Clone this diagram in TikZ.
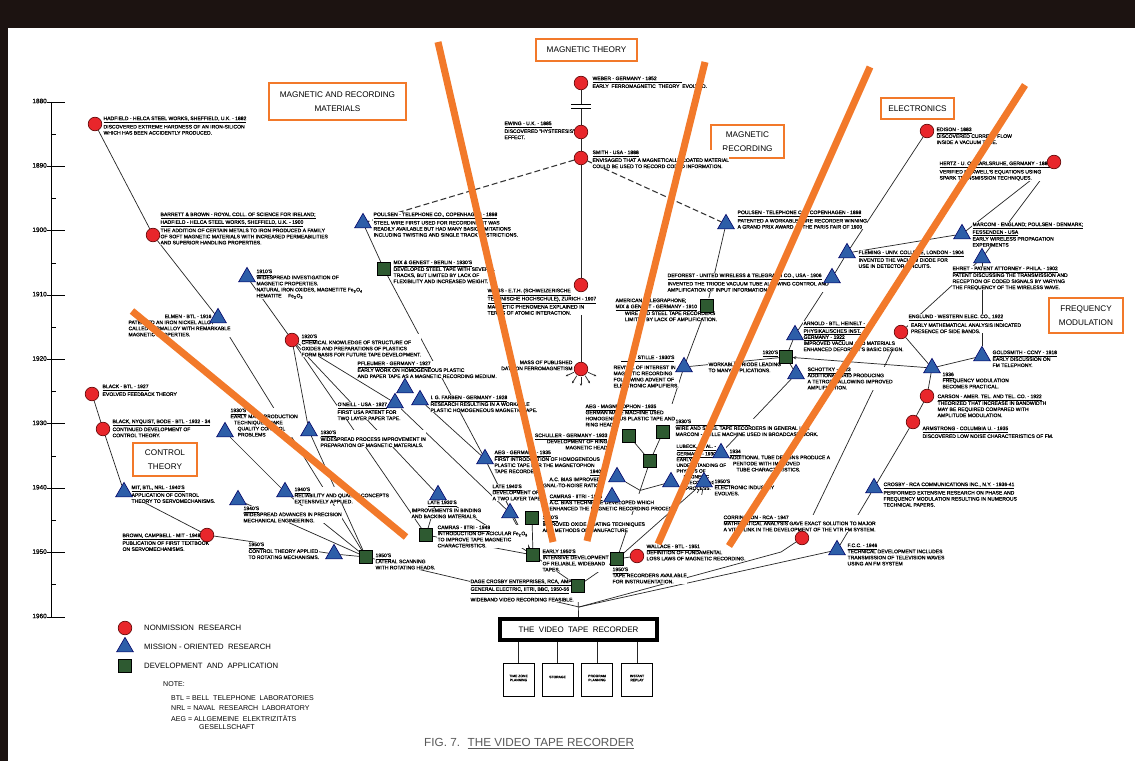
\documentclass[tikz,border=0pt]{standalone}
\usepackage{fontspec}
\setmainfont{Liberation Sans}
\newfontfamily\lett[FakeBold=0.7]{Liberation Sans}
\usetikzlibrary{shapes.geometric,calc,arrows.meta}
\definecolor{nmred}{HTML}{E8262B}
\definecolor{moblue}{HTML}{2D5EA8}
\definecolor{dagreen}{HTML}{2E5A31}
\definecolor{orng}{HTML}{F2792A}
\definecolor{framec}{HTML}{1C1311}
\pgfdeclarelayer{back}\pgfdeclarelayer{bg}\pgfdeclarelayer{fg}
\pgfsetlayers{back,bg,main,fg}
\newcommand{\sm}{\lett\fontsize{4.3}{5.2}\selectfont}
\newcommand{\utl}[1]{\underline{#1}}
\begin{document}
\begin{tikzpicture}[x=0.03cm,y=-0.03cm,
  nm/.style={circle,fill=nmred,draw=black!65!red,line width=0.5pt,minimum size=0.41cm,inner sep=0},
  mo/.style={regular polygon,regular polygon sides=3,fill=moblue,draw=black!60!blue,line width=0.5pt,minimum size=0.58cm,inner sep=0},
  da/.style={rectangle,fill=dagreen,draw=black,line width=0.5pt,minimum size=0.38cm,inner sep=0},
  txt/.style={anchor=north west,inner sep=0.3pt,align=left,font=\sm,fill=white},
  txtr/.style={txt,anchor=north east,align=right},
  conn/.style={line width=0.6pt,draw=black!85},
  dashconn/.style={line width=0.9pt,draw=black!80,dash pattern=on 5pt off 2.6pt},
  catbox/.style={draw=orng,line width=2.4pt,fill=white},
  catlbl/.style={font=\fontsize{7}{10}\selectfont,align=center,inner sep=0},
  orangeline/.style={draw=orng,line width=6pt},
  smallbox/.style={draw=black,line width=0.8pt,fill=white,minimum width=0.93cm,minimum height=0.99cm,inner sep=0},
  sblbl/.style={font=\lett\fontsize{2.9}{3.5}\selectfont,align=center,inner sep=0},
  yearlbl/.style={font=\lett\fontsize{5.5}{6}\selectfont,anchor=east,inner sep=0},
  legtxt/.style={font=\fontsize{6.6}{8}\selectfont,anchor=west,inner sep=0},
  notetxt/.style={font=\fontsize{6}{7}\selectfont,anchor=west,inner sep=0}
]
\useasboundingbox (0,0) rectangle (1135,761);
\begin{pgfonlayer}{back}
\fill[framec] (0,0) rectangle (1135,761);
\fill[white] (8,28) rectangle (1135,761);
\end{pgfonlayer}

% ---------------- time axis ----------------
\draw[line width=0.8pt] (51,102) -- (51,617);
\foreach \i/\yr in {0/1880,1/1890,2/1900,3/1910,4/1920,5/1930,6/1940,7/1950,8/1960}{
  \draw[line width=0.8pt] (47,{102+64.375*\i}) -- (65,{102+64.375*\i});
  \node[yearlbl] (yr\yr) at (47,{101+64.375*\i}) {\yr};
}
\foreach \i in {0,...,7}{
  \draw[line width=0.6pt] (51,{134.2+64.375*\i}) -- (56,{134.2+64.375*\i});
}

% ---------------- category boxes ----------------
\draw[catbox] (269,83) rectangle (406,120);
\node[catlbl] (k_mat) at (337.5,101.5) {MAGNETIC AND RECORDING\\[2pt]MATERIALS};
\draw[catbox] (536,39) rectangle (637,61);
\node[catlbl] (k_theory) at (586.5,50) {MAGNETIC THEORY};
\draw[catbox] (711,125) rectangle (784,158);
\node[catlbl] (k_rec) at (747.5,141.5) {MAGNETIC\\[2pt]RECORDING};
\draw[catbox] (881,98) rectangle (954,119);
\node[catlbl] (k_elec) at (917.5,108.5) {ELECTRONICS};
\draw[catbox] (1049,298) rectangle (1123,333);
\node[catlbl] (k_fm) at (1086,315.5) {FREQUENCY\\[2pt]MODULATION};
\draw[catbox] (133,443) rectangle (197,476);
\node[catlbl] (k_ctl) at (165,459.5) {CONTROL\\[2pt]THEORY};

% ---------------- texts ----------------
\node[txt] (x_hadfield) at (103,116) {\utl{HADFIELD - HELCA STEEL WORKS, SHEFFIELD, U.K. - 1882}\\[0.6pt]DISCOVERED EXTREME HARDNESS OF AN IRON-SILICON\\WHICH HAS BEEN ACCIDENTLY PRODUCED.};
\node[txt] (x_barrett) at (160,212) {\utl{BARRETT \& BROWN - ROYAL COLL. OF SCIENCE FOR IRELAND;}\\\utl{HADFIELD - HELCA STEEL WORKS, SHEFFIELD, U.K. - 1900}\\[0.6pt]THE ADDITION OF CERTAIN METALS TO IRON PRODUCED A FAMILY\\OF SOFT MAGNETIC MATERIALS WITH INCREASED PERMEABILITIES\\AND SUPERIOR HANDLING PROPERTIES.};
\node[txt] (x_1910) at (256,269) {\utl{1910'S}\\WIDESPREAD INVESTIGATION OF\\MAGNETIC PROPERTIES.\\NATURAL IRON OXIDES, MAGNETITE Fe\textsubscript{3}O\textsubscript{4}\\HEMATITE \quad Fe\textsubscript{2}O\textsubscript{3}};
\node[txtr] (x_elmen) at (212,314) {\utl{ELMEN - BTL - 1916}};
\node[txt] (x_elmenb) at (128,320) {PATENTED AN IRON NICKEL ALLOY\\CALLED PERMALLOY WITH REMARKABLE\\MAGNETIC PROPERTIES.};
\node[txt] (x_1920) at (301,334) {\utl{1920'S}\\CHEMICAL KNOWLEDGE OF STRUCTURE OF\\OXIDES AND PREPARATIONS OF PLASTICS\\FORM BASIS FOR FUTURE TAPE DEVELOPMENT.};
\node[txt] (x_pfleumer) at (357,361) {\utl{PFLEUMER - GERMANY - 1927}\\[0.6pt]EARLY WORK ON HOMOGENEOUS PLASTIC\\AND PAPER TAPE AS A MAGNETIC RECORDING MEDIUM.};
\node[txt] (x_oneill) at (337,402) {\utl{O'NEILL - USA - 1927}\\[1.5pt]FIRST USA PATENT FOR\\TWO LAYER PAPER TAPE.};
\node[txt] (x_farben) at (430,395) {\utl{I. G. FARBEN - GERMANY - 1928}\\[0.6pt]RESEARCH RESULTING IN A WORKABLE\\PLASTIC HOMOGENEOUS MAGNETIC TAPE.};
\node[txt] (x_1930) at (320,430) {\utl{1930'S}\\[0.6pt]WIDESPREAD PROCESS IMPROVEMENT IN\\PREPARATION OF MAGNETIC MATERIALS.};
\node[txt] (x_aeg) at (494,450) {\utl{AEG - GERMANY - 1935}\\[0.6pt]FIRST INTRODUCTION OF HOMOGENEOUS\\PLASTIC TAPE FOR THE MAGNETOPHON\\TAPE RECORDER.};
\node[txt] (x_late30) at (427,500) {\utl{LATE 1930'S}};
\node[txt] (x_late30b) at (411,508) {IMPROVEMENTS IN BINDING\\AND BACKING MATERIALS.};
\node[txt] (x_late40) at (492,484) {\utl{LATE 1940'S}\\DEVELOPMENT OF\\A TWO LAYER TAPE.};
\node[txt] (x_oxide) at (542,515) {\utl{1950'S}\\[0.6pt]IMPROVED OXIDE COATING TECHNIQUES\\AND METHODS OF MANUFACTURE};
\node[txt] (x_camras49) at (437,525) {\utl{CAMRAS - IITRI - 1949}\\INTRODUCTION OF ACICULAR Fe\textsubscript{2}O\textsubscript{3}\\TO IMPROVE TAPE MAGNETIC\\CHARACTERISTICS.};
\node[txt] (x_early50) at (542,549) {\utl{EARLY 1950'S}\\INTENSIVE DEVELOPMENT\\OF RELIABLE, WIDEBAND\\TAPES.};
\node[txt] (x_final) at (470,579) {\utl{DAGE CROSBY ENTERPRISES, RCA, AMPEX,}\\\utl{GENERAL ELECTRIC, IITRI, BBC, 1950-56}\\[2.5pt]WIDEBAND VIDEO RECORDING FEASIBLE.};
\node[txt] (x_right50) at (612,567) {\utl{1950'S}\\TAPE RECORDERS AVAILABLE\\FOR INSTRUMENTATION.};
\node[txt] (x_wallace) at (646,544) {\utl{WALLACE - BTL - 1951}\\DEFINITION OF FUNDAMENTAL\\LOSS LAWS OF MAGNETIC RECORDING.};

\node[txt] (x_weber) at (592,76) {\utl{WEBER - GERMANY - 1852\hspace{22pt}}\\[1.5pt]EARLY \ FERROMAGNETIC \ THEORY \ EVOLVED.};
\node[txt] (x_ewing) at (504,121) {\utl{EWING - U.K. - 1885}\\[1.5pt]DISCOVERED "HYSTERESIS"\\EFFECT.};
\node[txt] (x_smith) at (592,150) {\utl{SMITH - USA - 1888}\\[1.5pt]ENVISAGED THAT A MAGNETICALLY COATED MATERIAL\\COULD BE USED TO RECORD CODED INFORMATION.};
\node[txt] (x_weiss) at (487,288) {\utl{WEISS - E.T.H. (SCHWEIZERISCHE}\\\utl{TECHNISCHE HOCHSCHULE), ZURICH - 1907}\\MAGNETIC PHENOMENA EXPLAINED IN\\TERMS OF ATOMIC INTERACTION.};
\node[txtr] (x_mass) at (573,360) {MASS OF PUBLISHED\\DATA ON FERROMAGNETISM};

\node[txt] (x_poulsen98) at (373,212) {\utl{POULSEN - TELEPHONE CO., COPENHAGEN - 1898}\\[0.6pt]STEEL WIRE FIRST USED FOR RECORDING, IT WAS\\READILY AVAILABLE BUT HAD MANY BASIC LIMITATIONS\\INCLUDING TWISTING AND SINGLE TRACK RESTRICTIONS.};
\node[txt] (x_mix) at (393,260) {\utl{MIX \& GENEST - BERLIN - 1930'S}\\[0.6pt]DEVELOPED STEEL TAPE WITH SEVERAL\\TRACKS, BUT LIMITED BY LACK OF\\FLEXIBILITY AND INCREASED WEIGHT.};
\node[txt] (x_poulsen99) at (737,210) {\utl{POULSEN - TELEPHONE CO., COPENHAGEN - 1898}\\[0.6pt]PATENTED A WORKABLE WIRE RECORDER WINNING\\A GRAND PRIX AWARD AT THE PARIS FAIR OF 1900};
\node[txt] (x_amertel) at (615,298) {AMERICAN TELEGRAPHONE;\\\utl{MIX \& GENEST - GERMANY - 1910}\\[0.6pt]\hspace{8pt}WIRE AND STEEL TAPE RECORDERS\\\hspace{8pt}LIMITED BY LACK OF AMPLIFICATION.};
\node[txt] (x_deforest) at (667,273) {\utl{DEFOREST - UNITED WIRELESS \& TELEGRAPH CO., USA - 1906}\\[0.6pt]INVENTED THE TRIODE VACUUM TUBE ALLOWING CONTROL AND\\AMPLIFICATION OF INPUT INFORMATION.};
\node[txtr] (x_stille) at (675,355) {\utl{\hspace{14pt}STILLE - 1930'S}};
\node[txt] (x_stilleb) at (613,365) {REVIVAL OF INTEREST IN\\MAGNETIC RECORDING\\FOLLOWING ADVENT OF\\ELECTRONIC AMPLIFIERS.};
\node[txt] (x_1920e) at (762,350) {\utl{1920'S}};
\node[txt] (x_1920eb) at (708,362) {WORKABLE TRIODE LEADING\\TO MANY APPLICATIONS.};
\node[txt] (x_arnold) at (803,321) {\utl{ARNOLD - BTL, HEINELT -}\\\utl{PHYSIKALISCHES INST.}\\\utl{GERMANY - 1922}\\IMPROVED VACUUM AND MATERIALS\\ENHANCED DEFOREST'S BASIC DESIGN.};
\node[txt] (x_schottky) at (807,367) {\utl{SCHOTTKY - 1923}\\ADDITIONAL GRID PRODUCING\\A TETRODE ALLOWING IMPROVED\\AMPLIFICATION.};
\node[txt] (x_aegm) at (585,404) {\utl{AEG - MAGNETOPHON - 1935}\\GERMAN MADE MACHINE USED\\HOMOGENEOUS PLASTIC TAPE AND\\RING HEADS.};
\node[txtr] (x_schuller) at (608,433) {\utl{SCHULLER - GERMANY - 1933}\\DEVELOPMENT OF RING\\MAGNETIC HEAD};
\node[txtr] (x_acbias) at (606,469) {\utl{1940'S}};
\node[txtr] (x_acbiasb) at (601,477) {A.C. BIAS IMPROVED\\SIGNAL-TO-NOISE RATIO.};
\node[txt] (x_camras46) at (549,494) {\utl{CAMRAS - IITRI - 1946}\\A.C. BIAS TECHNIQUE DEVELOPED WHICH\\ENHANCED THE MAGNETIC RECORDING PROCESS.};
\node[txt] (x_1930w) at (675,419) {\utl{1930'S\hspace{50pt}}\\[0.6pt]WIRE AND STEEL TAPE RECORDERS IN GENERAL USE\\MARCONI - STILLE MACHINE USED IN BROADCAST WORK.};
\node[txt,font=\lett\fontsize{4.1}{4.9}\selectfont] (x_lubeck) at (676,444) {\utl{LUBECK, ET AL. -}\\\utl{GERMANY - 1930'S}\\EARLY\\UNDERSTANDING OF\\PHYSICS OF\\\hspace{6pt}MAGNETIC\\\hspace{8pt}RECORDING\\\hspace{8pt}PROCESS.};
\node[txt] (x_1934) at (729,449) {\utl{1934}\\ADDITIONAL TUBE DESIGNS PRODUCE A\\\hspace{3pt}PENTODE WITH IMPROVED\\\hspace{6pt}TUBE CHARACTERISTICS.};
\node[txt] (x_1950e) at (714,479) {\utl{1950'S}\\ELECTRONIC INDUSTRY\\EVOLVES.};

\node[txt] (x_fleming) at (858,250) {\utl{FLEMING - UNIV. COLLEGE, LONDON - 1904}\\INVENTED THE VACUUM DIODE FOR\\USE IN DETECTOR CIRCUITS.};
\node[txt] (x_edison) at (936,127) {\utl{EDISON - 1883}\\[0.6pt]DISCOVERED CURRENT FLOW\\INSIDE A VACUUM TUBE.};
\node[txt] (x_hertz) at (939,161) {\utl{HERTZ - U. OF KARLSRUHE, GERMANY - 1887}\\[0.6pt]VERIFIED MAXWELL'S EQUATIONS USING\\SPARK TRANSMISSION TECHNIQUES.};
\node[txt] (x_marconi) at (972,222) {\utl{MARCONI - ENGLAND; POULSEN - DENMARK;}\\\utl{FESSENDEN - USA}\\[0.6pt]EARLY WIRELESS PROPAGATION\\EXPERIMENTS};
\node[txt] (x_ehret) at (952,266) {\utl{EHRET - PATENT ATTORNEY - PHILA. - 1902}\\[0.6pt]PATENT DISCUSSING THE TRANSMISSION AND\\RECEPTION OF CODED SIGNALS BY VARYING\\THE FREQUENCY OF THE WIRELESS WAVE.};
\node[txt] (x_englund) at (908,314) {\utl{ENGLUND - WESTERN ELEC. CO., 1922}\\[1pt]\hspace{2pt}EARLY MATHEMATICAL ANALYSIS INDICATED\\\hspace{2pt}PRESENCE OF SIDE BANDS.};
\node[txt] (x_goldsmith) at (992,350) {\utl{GOLDSMITH - CCNY - 1918}\\[0.6pt]EARLY DISCUSSION ON\\FM TELEPHONY.};
\node[txt] (x_fm) at (942,372) {\utl{1936}\\FREQUENCY MODULATION\\BECOMES PRACTICAL.};
\node[txt] (x_carson) at (937,394) {\utl{CARSON - AMER. TEL. AND TEL. CO. - 1922}\\[0.6pt]THEORIZED THAT INCREASE IN BANDWIDTH\\MAY BE REQUIRED COMPARED WITH\\AMPLITUDE MODULATION.};
\node[txt] (x_armstrong) at (922,426) {\utl{ARMSTRONG - COLUMBIA U. - 1935}\\[1.5pt]DISCOVERED LOW NOISE CHARACTERISTICS OF FM.};
\node[txt] (x_crosby) at (883,482) {\utl{CROSBY - RCA COMMUNICATIONS INC., N.Y. - 1936-41}\\[0.6pt]PERFORMED EXTENSIVE RESEARCH ON PHASE AND\\FREQUENCY MODULATION RESULTING IN NUMEROUS\\TECHNICAL PAPERS.};
\node[txt] (x_fcc) at (847,543) {\utl{F.C.C. - 1946}\\TECHNICAL DEVELOPMENT INCLUDES\\TRANSMISSION OF TELEVISION WAVES\\USING AN FM SYSTEM};
\node[txt] (x_math) at (723,515) {\utl{CORRINGTON - RCA - 1947}\\MATHEMATICAL ANALYSIS GAVE EXACT SOLUTION TO MAJOR\\A VITAL LINK IN THE DEVELOPMENT OF THE VTR FM SYSTEM.};

\node[txt] (x_black22) at (102,384) {\utl{BLACK - BTL - 1927}\\[1.5pt]EVOLVED FEEDBACK THEORY};
\node[txt] (x_black30) at (112,419) {\utl{BLACK, NYQUIST, BODE - BTL - 1932 - 34}\\CONTINUED DEVELOPMENT OF\\CONTROL THEORY.};
\node[txt] (x_mit) at (131,485) {\utl{MIT, BTL, NRL - 1940'S}\\APPLICATION OF CONTROL\\THEORY TO SERVOMECHANISMS.};
\node[txt] (x_brown) at (122,533) {\utl{BROWN, CAMPBELL - MIT - 1948}\\PUBLICATION OF FIRST TEXTBOOK\\ON SERVOMECHANISMS.};
\node[txt] (x_1950c) at (248,542) {\utl{1950'S}\\[0.6pt]CONTROL THEORY APPLIED\\TO ROTATING MECHANISMS.};
\node[txt] (x_qc) at (230,408) {\utl{1930'S}\\EARLY MASS PRODUCTION\\\hspace{3pt}TECHNIQUES MAKE\\\hspace{6pt}QUALITY CONTROL\\\hspace{6pt}PROBLEMS};
\node[txt] (x_rel) at (294,487) {\utl{1940'S}\\RELIABILITY AND QUALITY CONCEPTS\\EXTENSIVELY APPLIED.};
\node[txt] (x_mech) at (243,506) {\utl{1940'S}\\WIDESPREAD ADVANCES IN PRECISION\\MECHANICAL ENGINEERING.};
\node[txt] (x_lateral) at (375,553) {\utl{1950'S}\\LATERAL SCANNING\\WITH ROTATING HEADS.};

% ---------------- symbols ----------------
\node[nm] (c_hadfield) at (95,124) {};
\node[nm] (c_barrett) at (153,235) {};
\node[nm] (c_1920) at (292,340) {};
\node[nm] (c_weber) at (581,83) {};
\node[nm] (c_ewing) at (581,132) {};
\node[nm] (c_smith) at (581,158) {};
\node[nm] (c_weiss) at (581,285) {};
\node[nm] (c_mass) at (581,369) {};
\node[nm] (c_wallace) at (637,556) {};
\node[nm] (c_edison) at (927,131) {};
\node[nm] (c_hertz) at (1054,162) {};
\node[nm] (c_englund) at (901,332) {};
\node[nm] (c_carson) at (927,396) {};
\node[nm] (c_armstrong) at (913,422) {};
\node[nm] (c_math) at (802,538) {};
\node[nm] (c_black22) at (92,394) {};
\node[nm] (c_black30) at (103,429) {};
\node[nm] (c_brown) at (207,535) {};

\node[mo] (t_elmen) at (218,318) {};
\node[mo] (t_1910) at (247,277) {};
\node[mo] (t_pfleumer) at (405,388) {};
\node[mo] (t_oneill) at (395,403) {};
\node[mo] (t_farben) at (420,400) {};
\node[mo] (t_1930) at (309,431) {};
\node[mo] (t_aeg) at (485,459) {};
\node[mo] (t_late30) at (438,495) {};
\node[mo] (t_late40) at (510,513) {};
\node[mo] (t_poulsen98) at (363,223) {};
\node[mo] (t_poulsen99) at (726,224) {};
\node[mo] (t_stille) at (684,367) {};
\node[mo] (t_arnold) at (795,335) {};
\node[mo] (t_schottky) at (796,374) {};
\node[mo] (t_deforest) at (832,278) {};
\node[mo] (t_fleming) at (847,253) {};
\node[mo] (t_marconi) at (962,234) {};
\node[mo] (t_ehret) at (982,258) {};
\node[mo] (t_goldsmith) at (982,356) {};
\node[mo] (t_fm) at (932,368) {};
\node[mo] (t_crosby) at (874,488) {};
\node[mo] (t_fcc) at (837,550) {};
\node[mo] (t_acbias) at (617,477) {};
\node[mo] (t_camras46) at (612,497) {};
\node[mo] (t_lubeck) at (671,482) {};
\node[mo] (t_1934) at (721,453) {};
\node[mo] (t_1950e) at (704,482) {};
\node[mo] (t_mit) at (124,492) {};
\node[mo] (t_1950c) at (334,554) {};
\node[mo] (t_qc) at (225,432) {};
\node[mo] (t_rel) at (285,492) {};
\node[mo] (t_mech) at (238,500) {};

\node[da] (s_mix) at (384,269) {};
\node[da] (s_amertel) at (707,306) {};
\node[da] (s_1920e) at (786,357) {};
\node[da] (s_1930w) at (663,432) {};
\node[da] (s_aegm) at (629,436) {};
\node[da] (s_mid) at (650,461) {};
\node[da] (s_oxide) at (532,518) {};
\node[da] (s_camras49) at (426,535) {};
\node[da] (s_early50) at (533,555) {};
\node[da] (s_final) at (578,586) {};
\node[da] (s_right) at (617,559) {};
\node[da] (s_lateral) at (366,557) {};

% break mark on theory line
\fill[white] (572,105) rectangle (590,108.5);
\draw[line width=0.6pt] (571,104.6) -- (591,104.6);
\draw[line width=0.6pt] (571,108.8) -- (591,108.8);

% ---------------- VTR box ----------------
\node[draw=black,line width=3pt,fill=white,minimum width=4.71cm,minimum height=0.63cm,inner sep=0,font=\fontsize{6.8}{8}\selectfont] (vtr) at (578.5,629.5) {THE \ VIDEO \ TAPE \ RECORDER};
\node[smallbox] (b1) at (518.5,679.5) {};
\node[smallbox] (b2) at (557.5,679.5) {};
\node[smallbox] (b3) at (597,679.5) {};
\node[smallbox] (b4) at (637,679.5) {};
\node[sblbl] (l1) at (518.5,678) {TIME ZONE\\PLANNING};
\node[sblbl] (l2) at (557.5,677) {STORAGE};
\node[sblbl] (l3) at (597,678) {PROGRAM\\PLANNING};
\node[sblbl] (l4) at (637,678) {INSTANT\\REPLAY};
\coordinate (jv) at (579,607);
\coordinate (bend1) at (781,552);

% ---------------- legend ----------------
\node[nm] (g_nm) at (125,628) {};
\node[mo] (g_mo) at (125,647) {};
\node[da] (g_da) at (125,666) {};
\node[legtxt] (g_nmt) at (144,628) {NONMISSION \ RESEARCH};
\node[legtxt] (g_mot) at (144,647) {MISSION - ORIENTED \ RESEARCH};
\node[legtxt] (g_dat) at (144,666) {DEVELOPMENT \ AND \ APPLICATION};
\node[notetxt] (n0) at (163,684) {NOTE:};
\node[notetxt] (n1) at (171,698) {BTL = BELL \ TELEPHONE \ LABORATORIES};
\node[notetxt] (n2) at (171,708) {NRL = NAVAL \ RESEARCH \ LABORATORY};
\node[notetxt] (n3) at (171,719) {AEG = ALLGEMEINE \ ELEKTRIZITÄTS};
\node[notetxt] (n4) at (199,727) {GESELLSCHAFT};
\node[font=\fontsize{10}{12}\selectfont,text=black!65,anchor=west,inner sep=0] (caption) at (424,744) {FIG. 7. \ \underline{THE VIDEO TAPE RECORDER}};

% ---------------- connectors ----------------
\begin{pgfonlayer}{bg}
\draw[conn] (c_hadfield) -- (c_barrett);
\draw[conn] (c_barrett) -- (t_elmen);
\draw[conn] (t_elmen) -- (s_lateral);
\draw[conn] (t_1910) -- (c_1920);
\draw[conn] (c_1920) -- (t_oneill);
\draw[conn] (c_1920) -- (t_1930);
\draw[conn] (c_1920) -- (s_camras49);
\draw[conn] (c_1920) -- (t_late30);
\draw[conn] (t_1930) -- (s_lateral);
\draw[conn] (t_farben) -- (t_aeg);
\draw[conn] (t_oneill) -- (t_late40);
\draw[conn] (t_poulsen98) -- (s_mix);
\draw[conn] (s_mix) -- (t_aeg);
\draw[conn] (t_aeg) -- (s_early50);
\draw[conn] (t_late40) -- (s_early50);
\draw[conn] (t_late30) -- (s_camras49);
\draw[conn] (t_late30) -- (s_early50);
\draw[conn] (s_camras49) -- (s_early50);
\draw[conn] (s_oxide) -- (s_early50);
\draw[conn] (s_early50) -- (s_final);
\draw[conn] (s_right) -- (s_final);
\draw[conn] (c_wallace) -- (s_right);
\draw[conn] (s_final) -- (vtr.north);
\draw[conn] (s_lateral) -- (jv);
\draw[conn] (c_math) -- (bend1) -- (jv);
\draw[conn] (t_fcc) -- (jv);
\foreach \b in {b1,b2,b3,b4}{\draw[conn] (vtr.south -| \b) -- (\b.north);}
% control theory
\draw[conn] (c_black22) -- (c_black30);
\draw[conn] (c_black30) -- (t_mit);
\draw[conn] (t_mit) -- (c_brown);
\draw[conn] (c_brown) -- (t_1950c);
\draw[conn] (t_1950c) -- (s_lateral);
\draw[conn] (t_qc) -- (t_rel);
\draw[conn] (t_rel) -- (s_lateral);
\draw[conn] (t_mech) -- (s_lateral);
% theory
\draw[conn] (c_weber) -- (c_ewing);
\draw[conn] (c_ewing) -- (c_smith);
\draw[conn] (c_smith) -- (c_weiss);
\draw[conn] (c_weiss) -- (c_mass);
\foreach \a in {25,58,90,122,155}{
  \draw[conn,-{Stealth[length=2.2pt,width=2pt]}] ($(c_mass)+(\a:8)$) -- ($(c_mass)+(\a:17)$);
}
\draw[dashconn] (c_smith) -- (t_poulsen98);
\draw[dashconn] (c_smith) -- (t_poulsen99);
% recording
\draw[conn] (t_poulsen99) -- (s_amertel);
\draw[conn] (s_amertel) -- (t_stille);
\draw[conn] (t_stille) -- (s_1920e);
\draw[conn] (t_stille) -- (s_1930w);
\draw[conn] (s_1930w) -- (s_mid);
\draw[conn] (s_aegm) -- (s_mid);
\draw[conn] (s_mid) -- (s_right);
\draw[conn] (t_acbias) -- ($(s_mid)!0.3!(s_right)$);
\draw[conn] (t_camras46) -- ($(s_mid)!0.47!(s_right)$);
\draw[conn] (t_lubeck) -- ($(s_mid)!0.3!(s_right)$);
\draw[conn] (t_1950e) -- (s_right);
\draw[conn] (t_1934) -- (t_1950e);
\foreach \a in {100,122,144,166}{
  \draw[conn] ($(t_1950e)+(\a:7)$) -- ($(t_1950e)+(\a:13)$);
}
% electronics
\draw[conn] (t_schottky) -- (t_1934);
\draw[conn] (t_arnold) -- (s_1920e);
\draw[conn] (t_schottky) -- (s_1920e);
\draw[conn] (t_deforest) -- (t_arnold);
\draw[conn] (t_fleming) -- (t_deforest);
\draw[conn] (c_edison) -- (t_fleming);
\draw[conn] (t_marconi) -- (t_fleming);
\draw[conn] (c_hertz) -- (t_marconi);
\draw[conn] (c_hertz) -- (t_ehret);
\draw[conn] (t_ehret) -- (t_goldsmith);
\draw[conn] (t_ehret) -- (c_englund);
\draw[conn] (c_englund) -- (t_fm);
\draw[conn] (t_goldsmith) -- (t_fm);
\draw[conn,-{Stealth[length=3pt,width=2.6pt]}] (t_fm) -- (s_1920e);
\draw[conn] (c_englund) -- (c_math);
\draw[conn] (t_fm) -- (c_carson);
\draw[conn] (c_carson) -- (c_armstrong);
\draw[conn] (c_armstrong) -- (t_crosby);
\draw[conn] (t_crosby) -- (t_fcc);
\end{pgfonlayer}

% ---------------- orange separators ----------------
\begin{pgfonlayer}{fg}
\draw[orangeline] (132,311) -- (406,537);
\draw[orangeline] (438,42) -- (553,542);
\draw[orangeline] (705,62) -- (587,541);
\draw[orangeline] (870,67) -- (658,544);
\draw[orangeline] (1025,85) -- (729,546);
\end{pgfonlayer}
\end{tikzpicture}
\end{document}
